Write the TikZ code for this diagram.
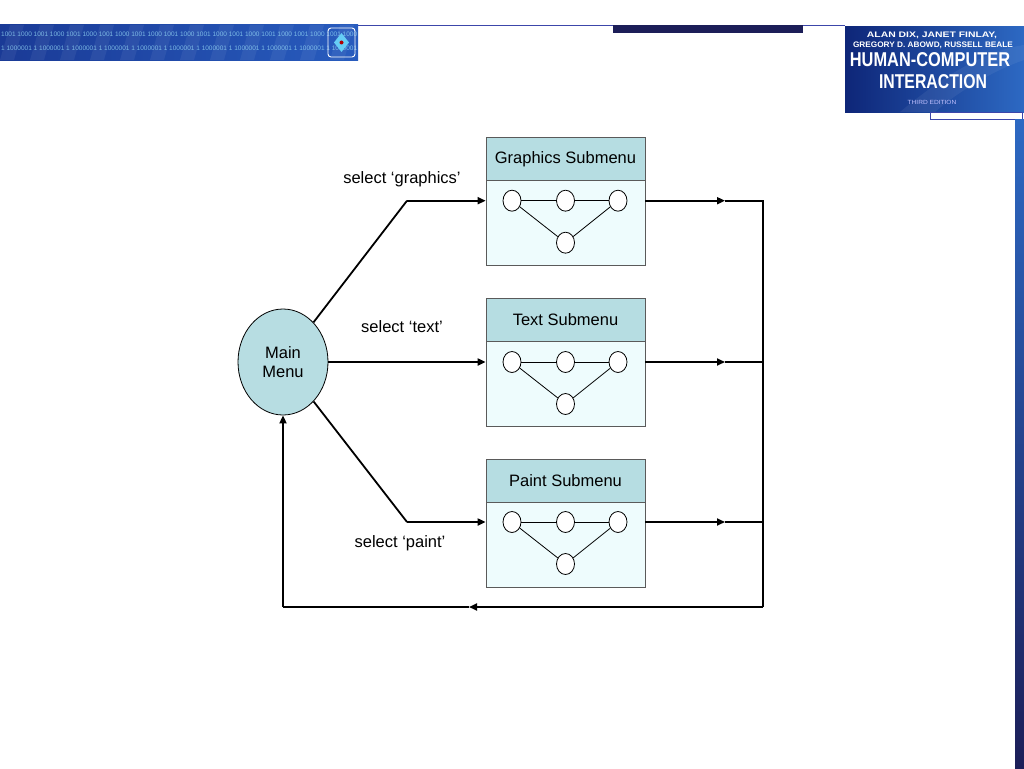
\documentclass[tikz,border=0pt]{standalone}
\usepackage{fontspec}
\setmainfont{Liberation Sans}
\usetikzlibrary{arrows.meta,shapes.geometric}
\definecolor{mmfill}{RGB}{183,221,226}
\definecolor{titlefill}{RGB}{182,221,226}
\definecolor{bodyfill}{RGB}{238,252,253}
\definecolor{boxline}{RGB}{90,90,90}
\definecolor{navy}{RGB}{28,30,88}
\definecolor{banA}{RGB}{26,58,150}
\definecolor{banB}{RGB}{40,92,190}
\definecolor{logoA}{RGB}{14,38,120}
\definecolor{logoB}{RGB}{45,105,195}
\definecolor{rule}{RGB}{60,70,170}
\begin{document}
\begin{tikzpicture}[x=1pt,y=-1pt,
  conn/.style={line width=1.8pt,line join=miter,-{Triangle[length=8pt,width=7pt]}},
  plain/.style={line width=1.8pt,line join=miter},
  titlebox/.style={draw=boxline,line width=0.7pt,fill=titlefill,minimum width=159pt,minimum height=44pt,inner sep=0pt,font=\fontsize{16.5}{19}\selectfont},
  bodybox/.style={draw=boxline,line width=0.7pt,fill=bodyfill,minimum width=159pt,minimum height=85pt,inner sep=0pt},
  dot/.style={ellipse,draw=black,line width=0.8pt,fill=white,minimum width=18pt,minimum height=21pt,inner sep=0pt},
  thin/.style={line width=0.8pt},
  lbl/.style={font=\fontsize{16.5}{19}\selectfont},
  bin/.style={anchor=west,inner sep=0pt,text=cyan!40!white,opacity=0.75,font=\fontsize{6.5}{7}\selectfont},
  logotext/.style={text=white,inner sep=0pt}]
\useasboundingbox (0,0) rectangle (1024,768);
\fill[white] (0,0) rectangle (1024,768);
% ---------- header decorations ----------
\draw[rule,line width=0.8pt] (358,25) -- (845,25);
\fill[navy] (613,25) rectangle (803,33);
\shade[left color=banA,right color=banB] (0,25) rectangle (358,60);
\foreach \i in {0,...,11}{
  \fill[white,opacity=0.06] (\i*30+10,25) -- (\i*30+24,25) -- (\i*30+14,60) -- (\i*30,60) -- cycle;
}
\node[bin] (binA) at (1,34) {1001 1000 1001 1000 1001 1000 1001 1000 1001 1000 1001 1000 1001 1000 1001 1000 1001 1000 1001 1000 1001 1000};
\node[bin] (binB) at (1,48) {1 1000001 1 1000001 1 1000001 1 1000001 1 1000001 1 1000001 1 1000001 1 1000001 1 1000001 1 1000001 1 1000001};
\draw[white,line width=0.9pt,rounded corners=3pt] (328,28) rectangle (355,57);
\fill[cyan!60!white] (341.5,33) -- (349,42.5) -- (341.5,52) -- (334,42.5) -- cycle;
\fill[red!70!black] (341.5,42.5) circle (2pt);
% logo
\shade[left color=logoA,right color=logoB] (845,27) rectangle (1024,112);
\fill[white,opacity=0.06] (900,112) .. controls (950,70) and (990,50) .. (1024,45) -- (1024,60) .. controls (995,70) and (960,90) .. (935,112) -- cycle;
\node[logotext,font=\bfseries\fontsize{8}{9}\selectfont,xscale=1.3] (au1) at (932,35) {ALAN DIX, JANET FINLAY,};
\node[logotext,font=\bfseries\fontsize{8}{9}\selectfont,xscale=1.03] (au2) at (933,45) {GREGORY D. ABOWD, RUSSELL BEALE};
\node[logotext,font=\bfseries\fontsize{20}{22}\selectfont,xscale=0.82] (t1) at (930,60) {HUMAN-COMPUTER};
\node[logotext,font=\bfseries\fontsize{20}{22}\selectfont,xscale=0.79] (t2) at (933,82) {INTERACTION};
\node[logotext,text=white!75!blue,font=\fontsize{6}{7}\selectfont,xscale=1.1] (ed) at (932,102.5) {THIRD EDITION};
\draw[rule,fill=white,line width=0.8pt] (930,112) rectangle (1022,119);
\shade[top color=logoB,bottom color=navy] (1015,119) rectangle (1024,768);
% ---------- diagram ----------
\node[ellipse,draw=black,line width=0.8pt,fill=mmfill,minimum width=90pt,minimum height=106pt,inner sep=0pt,align=center,font=\fontsize{16.5}{19}\selectfont] (main) at (283,362) {Main\\Menu};
% submenus
\node[titlebox] (gt) at (565.5,159) {Graphics Submenu};
\node[bodybox] (gb) at (565.5,222.5) {};
\node[titlebox] (tt) at (565.5,320) {Text Submenu};
\node[bodybox] (tb) at (565.5,383.5) {};
\node[titlebox] (pt) at (565.5,481) {Paint Submenu};
\node[bodybox] (pb) at (565.5,544.5) {};
\foreach \b/\y in {g/200.7,t/362,p/522}{
  \node[dot] (\b1) at (512,\y) {};
  \node[dot] (\b2) at (565.5,\y) {};
  \node[dot] (\b3) at (618,\y) {};
  \node[dot] (\b4) at (565.5,\y+42) {};
  \draw[thin] (\b1) -- (\b2) -- (\b3);
  \draw[thin] (\b1) -- (\b4) -- (\b3);
}
% labels
\node[lbl] (lg) at (402,179) {select ‘graphics’};
\node[lbl] (lt) at (402,327) {select ‘text’};
\node[lbl] (lp) at (400,543) {select ‘paint’};
% input connectors
\coordinate (gk) at (407,200.7);
\coordinate (pk) at (407,522);
\draw[plain] (main) -- (gk);
\draw[conn] (gk) -- (gb.west |- g1);
\draw[conn] (main) -- (tb.west |- t1);
\draw[plain] (main) -- (pk);
\draw[conn] (pk) -- (pb.west |- p1);
% output connectors
\coordinate (go) at (725,200.7);
\coordinate (to) at (725,362);
\coordinate (po) at (725,522);
\coordinate (gr) at (763,200.7);
\coordinate (tr) at (763,362);
\coordinate (pr) at (763,522);
\coordinate (br) at (763,607);
\coordinate (bm) at (469,607);
\coordinate (bl) at (283,607);
\draw[conn] (gb.east |- g3) -- (go);
\draw[conn] (tb.east |- t3) -- (to);
\draw[conn] (pb.east |- p3) -- (po);
\draw[plain] (go) -- (gr) -- (br);
\draw[plain] (to) -- (tr);
\draw[plain] (po) -- (pr);
\draw[conn] (br) -- (bm);
\draw[plain] (bm) -- (bl);
\draw[conn] (bl) -- (main.south);
\end{tikzpicture}
\end{document}
